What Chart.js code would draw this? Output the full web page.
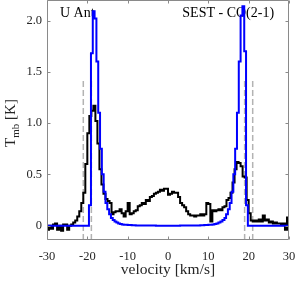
<!DOCTYPE html>
<html>
<head>
<meta charset="utf-8">
<script src="https://cdn.jsdelivr.net/npm/chart.js@4"></script>
<style>
  html, body { margin: 0; padding: 0; background: #fff; }
  #wrap { width: 300px; height: 281px; }
</style>
</head>
<body>
<div id="wrap"><canvas id="spec" width="300" height="281"></canvas></div>
<script>
// observed spectrum, 0.5 km/s channels starting at -30 km/s
const velStart = -30;
const binWidth = 0.5;
const obsT = [
  -0.04, 0.00, -0.03, 0.01, 0.02, -0.04, 0.00, -0.05, 0.01, 0.01,
  -0.04, 0.00, 0.01, 0.03, 0.05, 0.09, 0.14, 0.22, 0.32, 0.60,
  0.90, 1.07, 1.12, 1.17, 1.02, 0.80, 0.55, 0.40, 0.31, 0.26,
  0.24, 0.22, 0.11, 0.13, 0.14, 0.14, 0.16, 0.12, 0.09, 0.14,
  0.22, 0.11, 0.12, 0.14, 0.15, 0.19, 0.20, 0.22, 0.21, 0.25,
  0.24, 0.28, 0.29, 0.31, 0.32, 0.33, 0.35, 0.34, 0.36, 0.36,
  0.30, 0.31, 0.33, 0.32, 0.32, 0.28, 0.22, 0.20, 0.18, 0.14,
  0.11, 0.10, 0.10, 0.09, 0.10, 0.10, 0.11, 0.10, 0.11, 0.22,
  0.21, 0.04, 0.15, 0.14, 0.15, 0.16, 0.15, 0.18, 0.19, 0.25,
  0.27, 0.32, 0.42, 0.55, 0.62, 0.61, 0.58, 0.48, 0.47, 0.25,
  0.12, 0.05, 0.04, 0.05, 0.04, 0.06, 0.04, 0.10, 0.05, 0.06,
  0.03, 0.04, 0.02, 0.03, 0.02, 0.02, 0.01, 0.02, -0.04, 0.08
];

// model profile (left edges of steps)
const modelVel = [
  -30, -19.6, -19.1, -18.65, -18.2, -17.75, -17.3, -16.85, -16.4, -15.95,
  -15.5, -15.05, -14.6, -14.15, -13.7, -13.25, -12.8, -12.35, -11.9, -11.45,
  -11, -10, -9, -8, -6, -3,
  3, 6, 8, 9, 10, 11, 11.5, 12, 12.5, 13,
  13.5, 14, 14.4, 14.85, 15.3, 15.75, 16.2, 16.65, 17.1, 17.55,
  18.0, 18.45, 18.9, 19.35, 19.8, 30
];
const modelT = [
  0, 0.2, 1.68, 2.09, 2.02, 1.6, 1.1, 0.75, 0.5, 0.33,
  0.22, 0.16, 0.11, 0.075, 0.055, 0.04, 0.03, 0.022, 0.016, 0.012,
  0.009, 0.006, 0.004, 0.002, 0.001, 0,
  0.001, 0.002, 0.004, 0.006, 0.009, 0.012, 0.016, 0.022, 0.03, 0.04,
  0.055, 0.075, 0.11, 0.16, 0.22, 0.33, 0.5, 0.75, 1.1, 1.6,
  2.05, 2.14, 1.7, 0.2, 0, 0
];

// dashed velocity markers
const markerVel = [-21, -19, 19, 21];
const markerTop = 1.42;

const xTicks = [-30, -20, -10, 0, 10, 20, 30];
const yTicks = [0, 0.5, 1, 1.5, 2];

const labels = [
  { text: 'U Ant', x: -26.8, y: 2.03, align: 'left' },
  { text: 'SEST - CO(2-1)', x: 26.3, y: 2.03, align: 'right' }
];

const serif = '"Liberation Serif", "DejaVu Serif", serif';
const axisGray = '#8a8a8a';

const obsPoints = obsT.map((t, i) => ({ x: velStart + i * binWidth, y: t }));
obsPoints.push({ x: velStart + obsT.length * binWidth, y: obsT[obsT.length - 1] });
const modelPoints = modelVel.map((v, i) => ({ x: v, y: modelT[i] }));

const markerSets = markerVel.map(v => ({
    data: [{ x: v, y: -0.14 }, { x: v, y: markerTop }],
    borderColor: '#b3b3b3',
    borderWidth: 1.5,
    borderDash: [6, 3],
    pointRadius: 0
}));

function noPad(s) {
    s.paddingTop = 0;
    s.paddingBottom = 0;
    s.paddingLeft = 0;
    s.paddingRight = 0;
}

const boxPlugin = {
    id: 'box',
    beforeDatasetsDraw(chart) {
        const ctx = chart.ctx;
        const xs = chart.scales.x, ys = chart.scales.y;
        ctx.save();
        ctx.fillStyle = '#000';
        ctx.font = '14px ' + serif;
        ctx.textBaseline = 'alphabetic';
        labels.forEach(l => {
            ctx.textAlign = l.align;
            ctx.fillText(l.text, xs.getPixelForValue(l.x), ys.getPixelForValue(l.y));
        });
        ctx.restore();
    },
    afterDraw(chart) {
        const ctx = chart.ctx;
        const a = chart.chartArea;
        const xs = chart.scales.x, ys = chart.scales.y;
        const L = Math.round(a.left) + 0.5, R = Math.round(a.right) - 0.5;
        const T = Math.round(a.top) + 0.5, B = Math.round(a.bottom) - 0.5;
        ctx.save();
        ctx.strokeStyle = axisGray;
        ctx.lineWidth = 1;
        ctx.beginPath();
        ctx.rect(L, T, R - L, B - T);
        const tl = 3;
        xTicks.forEach(v => {
            const px = Math.round(xs.getPixelForValue(v)) + 0.5;
            ctx.moveTo(px, B); ctx.lineTo(px, B - tl);
            ctx.moveTo(px, T); ctx.lineTo(px, T + tl);
        });
        yTicks.forEach(v => {
            const py = Math.round(ys.getPixelForValue(v)) + 0.5;
            ctx.moveTo(L, py); ctx.lineTo(L + tl, py);
            ctx.moveTo(R, py); ctx.lineTo(R - tl, py);
        });
        ctx.stroke();

        // y axis label with subscript
        ctx.fillStyle = '#262626';
        ctx.textBaseline = 'alphabetic';
        ctx.textAlign = 'left';
        const big = '15px ' + serif, small = '11px ' + serif;
        ctx.font = big;
        const wT = ctx.measureText('T').width;
        const wK = ctx.measureText(' [K]').width;
        ctx.font = small;
        const wS = ctx.measureText('mb').width;
        const total = wT + wS + wK;
        ctx.translate(15, 123);
        ctx.rotate(-Math.PI / 2);
        let x0 = -total / 2;
        ctx.font = big;
        ctx.fillText('T', x0, 0);
        ctx.font = small;
        ctx.fillText('mb', x0 + wT, 3.5);
        ctx.font = big;
        ctx.fillText(' [K]', x0 + wT + wS, 0);
        ctx.restore();
    }
};

new Chart(document.getElementById('spec'), {
    type: 'line',
    data: {
        datasets: [
            {
                data: modelPoints,
                borderColor: '#0000ff',
                borderWidth: 2,
                stepped: true,
                pointRadius: 0
            },
            {
                data: obsPoints,
                borderColor: '#000000',
                borderWidth: 2,
                stepped: true,
                pointRadius: 0
            },
            ...markerSets
        ]
    },
    options: {
        responsive: false,
        animation: false,
        events: [],
        layout: { padding: { top: 0, right: 11, left: 0, bottom: 0 } },
        plugins: {
            legend: { display: false },
            tooltip: { enabled: false }
        },
        scales: {
            x: {
                type: 'linear',
                min: -30,
                max: 30,
                grid: { display: false, drawTicks: false },
                border: { display: false },
                afterBuildTicks: s => { s.ticks = xTicks.map(v => ({ value: v })); },
                afterFit: s => { s.height = 41; noPad(s); },
                ticks: {
                    padding: 9,
                    color: '#262626',
                    font: { family: serif, size: 12.5 }
                },
                title: {
                    display: true,
                    text: 'velocity [km/s]',
                    color: '#262626',
                    padding: { top: 0, bottom: 2 },
                    font: { family: serif, size: 15.5 }
                }
            },
            y: {
                type: 'linear',
                min: -0.14,
                max: 2.2,
                grid: { display: false, drawTicks: false },
                border: { display: false },
                afterBuildTicks: s => { s.ticks = yTicks.map(v => ({ value: v })); },
                afterFit: s => { s.width = 47; noPad(s); },
                ticks: {
                    padding: 5,
                    color: '#262626',
                    font: { family: serif, size: 12.5 }
                }
            }
        }
    },
    plugins: [boxPlugin]
});
</script>
</body>
</html>
